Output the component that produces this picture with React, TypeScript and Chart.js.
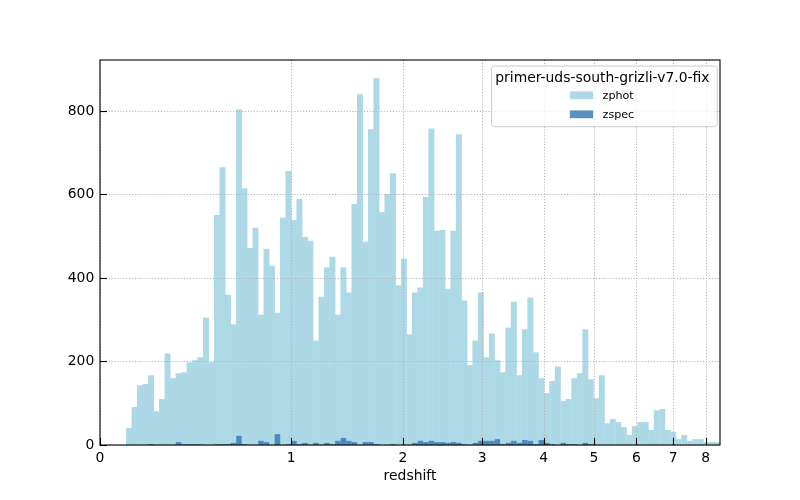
import React, { useEffect, useRef } from "react";
import { Chart, registerables } from "chart.js";

Chart.register(...registerables);

// ---- data ----
const legendTitle = "primer-uds-south-grizli-v7.0-fix";
const seriesNames = ["zphot", "zspec"];
const xTickZ = [0, 1, 2, 3, 4, 5, 6, 7, 8];
const xTickLabels = ["0", "1", "2", "3", "4", "5", "6", "7", "8"];
const yTicks = [0, 200, 400, 600, 800];
const zMinBin = 0.1; // first bin edge (redshift)
const zMaxBin = 8.48; // last bin edge (redshift)
const zAxisMax = 8.48;
const yAxisMax = 922;

const zphotCounts = [
  41, 91, 143, 146, 167, 81, 110, 219, 160, 172, 174, 198, 203, 210, 305, 198,
  551, 665, 360, 289, 804, 615, 472, 520, 312, 470, 429, 317, 544, 656, 539, 589,
  498, 489, 250, 355, 425, 451, 312, 425, 365, 577, 840, 487, 756, 878, 558, 601,
  651, 382, 446, 265, 365, 377, 594, 758, 513, 515, 374, 513, 744, 346, 191, 250,
  365, 210, 267, 203, 174, 281, 343, 167, 277, 353, 222, 160, 124, 153, 188, 105,
  110, 160, 172, 277, 157, 112, 167, 52, 62, 55, 43, 24, 45, 55, 55, 36,
  83, 86, 36, 31, 14, 24, 10, 14, 14, 7, 7, 7,
];

const zspecCounts = [
  0, 0, 0, 0, 2, 0, 0, 0, 0, 7, 2, 2, 2, 2, 0, 0,
  2, 2, 2, 5, 22, 2, 0, 0, 10, 7, 0, 26, 0, 2, 10, 2,
  5, 0, 5, 0, 5, 2, 10, 17, 10, 7, 0, 7, 7, 2, 0, 0,
  2, 0, 0, 0, 5, 10, 7, 10, 7, 7, 5, 7, 5, 2, 0, 5,
  10, 10, 10, 14, 2, 5, 10, 5, 12, 10, 2, 12, 5, 2, 0, 5,
  2, 2, 0, 5, 2, 0, 0, 0, 0, 0, 0, 0, 0, 0, 0, 0,
  0, 0, 0, 0, 0, 0, 0, 0, 0, 0, 0, 0,
];

const zphotColor = "#add8e6";
const zspecColor = "rgba(55,120,180,0.82)";

const FONT = "DejaVu Sans";

const lg = (z: number) => Math.log10(1 + z);
const binLo = lg(zMinBin);
const binW = (lg(zMaxBin) - binLo) / zphotCounts.length;
const centers = zphotCounts.map((_, i) => binLo + (i + 0.5) * binW);

const overlayPlugin = {
  id: "overlay",
  afterDatasetsDraw(chart: any) {
    const { ctx, chartArea: a, scales } = chart;
    const xs = scales.x;
    const ys = scales.y;
    ctx.save();
    // grid (dotted, over bars)
    ctx.strokeStyle = "#b0b0b0";
    ctx.lineWidth = 1;
    ctx.setLineDash([1.1, 1.8]);
    xs.ticks.forEach((t: any) => {
      const px = Math.round(xs.getPixelForValue(t.value)) + 0.5;
      ctx.beginPath();
      ctx.moveTo(px, a.top);
      ctx.lineTo(px, a.bottom);
      ctx.stroke();
    });
    ys.ticks.forEach((t: any) => {
      const py = Math.round(ys.getPixelForValue(t.value)) + 0.5;
      ctx.beginPath();
      ctx.moveTo(a.left, py);
      ctx.lineTo(a.right, py);
      ctx.stroke();
    });
    ctx.setLineDash([]);
    // inward ticks
    ctx.strokeStyle = "#000";
    ctx.lineWidth = 1.1;
    xs.ticks.forEach((t: any) => {
      const px = Math.round(xs.getPixelForValue(t.value)) + 0.5;
      ctx.beginPath();
      ctx.moveTo(px, a.bottom);
      ctx.lineTo(px, a.bottom - 7);
      ctx.stroke();
    });
    ys.ticks.forEach((t: any) => {
      const py = Math.round(ys.getPixelForValue(t.value)) + 0.5;
      ctx.beginPath();
      ctx.moveTo(a.left, py);
      ctx.lineTo(a.left + 7, py);
      ctx.stroke();
    });
    // frame
    ctx.lineWidth = 1.1;
    ctx.strokeRect(a.left, a.top, a.right - a.left, a.bottom - a.top);
    ctx.restore();
  },
  afterDraw(chart: any) {
    const { ctx, chartArea: a } = chart;
    ctx.save();
    const boxW = 225.6;
    const boxH = 60.7;
    const boxR = a.right - 2.8;
    const boxL = boxR - boxW;
    const boxT = a.top + 6;
    ctx.fillStyle = "rgba(255,255,255,0.8)";
    ctx.strokeStyle = "#cccccc";
    ctx.lineWidth = 1;
    ctx.beginPath();
    (ctx as any).roundRect(boxL, boxT, boxW, boxH, 3);
    ctx.fill();
    ctx.stroke();
    // title
    ctx.fillStyle = "#000";
    ctx.font = `13.9px "${FONT}"`;
    ctx.textAlign = "center";
    ctx.textBaseline = "alphabetic";
    ctx.fillText(legendTitle, boxL + boxW / 2 - 2, a.top + 22);
    // entries
    const colors = [zphotColor, zspecColor];
    const centersY = [a.top + 35.3, a.top + 54.3];
    ctx.font = `11.1px "${FONT}"`;
    ctx.textAlign = "left";
    seriesNames.forEach((name, i) => {
      ctx.fillStyle = colors[i];
      ctx.fillRect(boxL + 78.3, centersY[i] - 3.9, 23.3, 7.8);
      ctx.fillStyle = "#000";
      ctx.fillText(name, boxL + 111, centersY[i] + 4);
    });
    ctx.restore();
  },
};

export default function App() {
  const ref = useRef<HTMLCanvasElement | null>(null);
  useEffect(() => {
    if (!ref.current) return;
    Chart.defaults.font.family = FONT;
    Chart.defaults.color = "#000";
    const chart = new Chart(ref.current, {
      type: "bar",
      data: {
        datasets: [
          {
            label: seriesNames[0],
            data: centers.map((c, i) => ({ x: c, y: zphotCounts[i] })),
            backgroundColor: zphotColor,
            borderWidth: 0,
            barPercentage: 1.08,
            categoryPercentage: 1,
            inflateAmount: 0,
            grouped: false,
            order: 1,
          },
          {
            label: seriesNames[1],
            data: centers.map((c, i) => ({ x: c, y: zspecCounts[i] })),
            backgroundColor: zspecColor,
            borderWidth: 0,
            barPercentage: 1,
            categoryPercentage: 1,
            inflateAmount: 0,
            grouped: false,
            order: 0,
          },
        ],
      },
      options: {
        animation: false,
        responsive: false,
        devicePixelRatio: 1,
        layout: { padding: { top: 60, right: 80, left: 0, bottom: 0 } },
        plugins: { legend: { display: false }, tooltip: { enabled: false } },
        scales: {
          x: {
            type: "linear",
            min: 0,
            max: lg(zAxisMax),
            offset: false,
            grid: { display: false, drawTicks: false },
            border: { display: false },
            afterBuildTicks: (scale: any) => {
              scale.ticks = xTickZ.map((z) => ({ value: lg(z) }));
            },
            afterFit: (scale: any) => {
              scale.height = 55;
            },
            ticks: {
              autoSkip: false,
              maxRotation: 0,
              padding: 5,
              font: { size: 13.9 },
              color: "#000",
              callback: (_v: any, i: number) => xTickLabels[i],
            },
            title: {
              display: true,
              text: "redshift",
              font: { size: 13.9 },
              color: "#000",
              padding: { top: 0, bottom: 15 },
            },
          },
          y: {
            type: "linear",
            min: 0,
            max: yAxisMax,
            grid: { display: false, drawTicks: false },
            border: { display: false },
            afterBuildTicks: (scale: any) => {
              scale.ticks = yTicks.map((v) => ({ value: v }));
            },
            afterFit: (scale: any) => {
              scale.width = 100;
            },
            ticks: {
              padding: 5.7,
              font: { size: 13.9 },
              color: "#000",
              callback: (v: any) => String(v),
            },
          },
        },
      },
      plugins: [overlayPlugin],
    });
    return () => chart.destroy();
  }, []);
  return (
    <div style={{ position: "absolute", left: 0, top: 0, width: 800, height: 500, background: "#fff" }}>
      <canvas ref={ref} width={800} height={500} />
    </div>
  );
}
